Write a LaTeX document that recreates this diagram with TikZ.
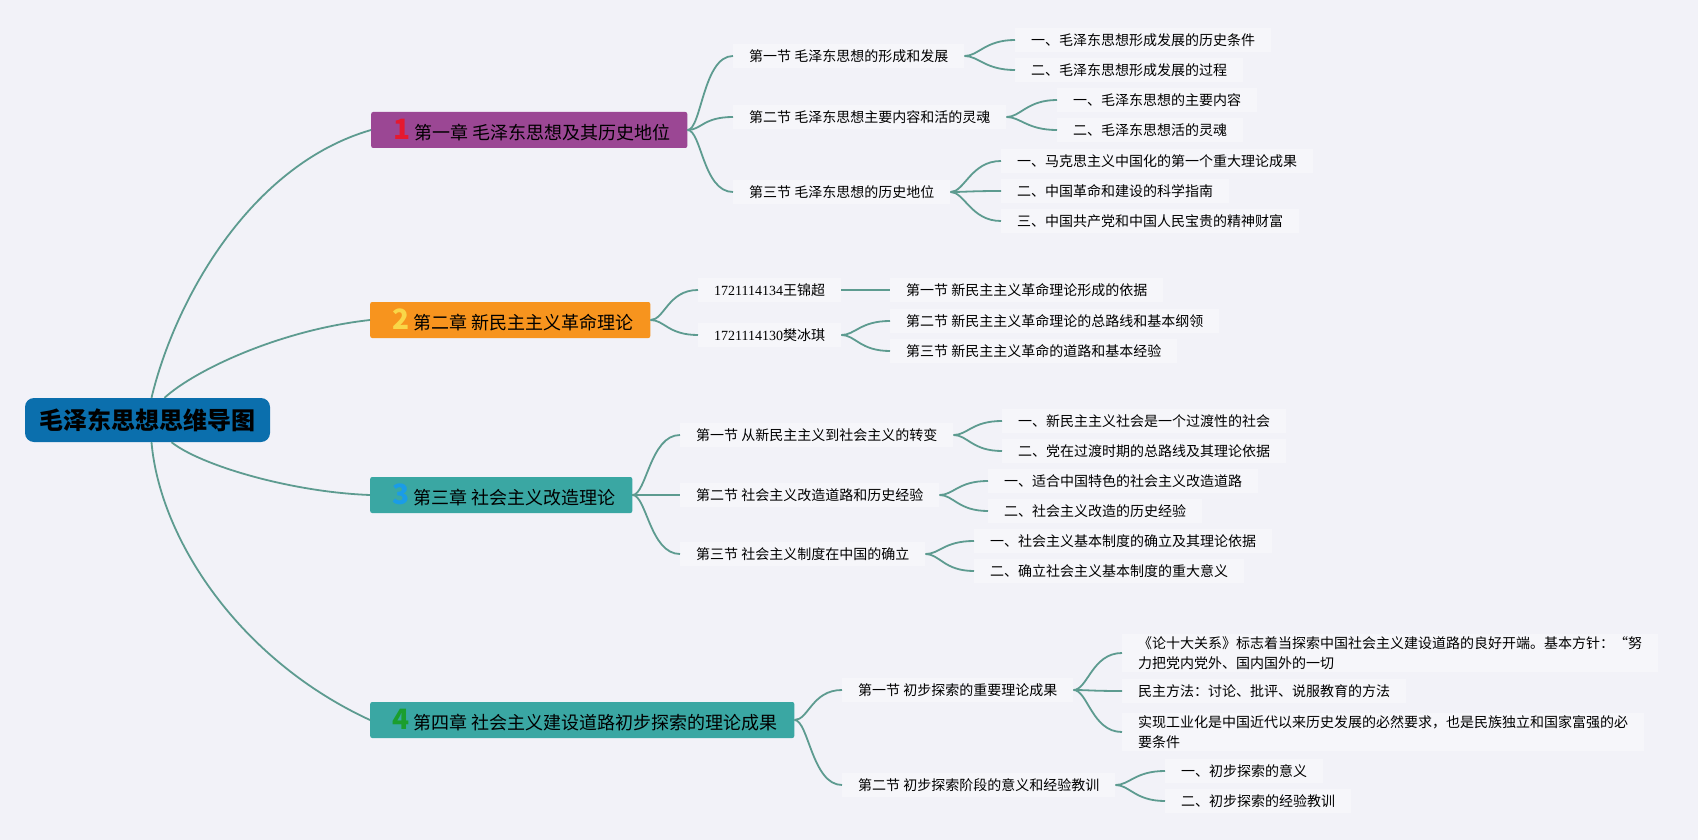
\documentclass[tikz,border=0pt]{standalone}
\usepackage{fontspec}
\setmainfont{Noto Sans CJK SC}
\newfontfamily\idfont{Liberation Serif}
\definecolor{bgc}{HTML}{F2F2F8}
\definecolor{boxc}{HTML}{F6F6FA}
\definecolor{linkc}{HTML}{5D9B90}
\definecolor{rootc}{HTML}{0B6FAD}
\definecolor{purp}{HTML}{9B4794}
\definecolor{orng}{HTML}{F7941E}
\definecolor{teal}{HTML}{3AA7A3}
\definecolor{numred}{HTML}{E5192F}
\definecolor{numyel}{HTML}{F9D648}
\definecolor{numblu}{HTML}{1A9CE8}
\definecolor{numgrn}{HTML}{1B9E2E}
\newcommand\chnum[2]{\hspace{5pt}{\color{#1}\fontsize{28}{28}\selectfont\bfseries #2}\hspace{4pt}}
\tikzset{
  link/.style={draw=linkc, line width=1.8pt},
  fork/.style={to path={.. controls +(14,0) and +(-30,0) .. (\tikztotarget)}},
  root/.style={fill=rootc, rounded corners=9pt, minimum width=245pt,
    minimum height=44pt, font=\fontsize{24}{24}\selectfont\bfseries},
  chap/.style={anchor=west, rounded corners=2pt, minimum height=36pt,
    inner xsep=17pt, inner ysep=0pt, font=\fontsize{18}{18}\selectfont},
  sect/.style={anchor=west, fill=boxc, minimum height=24pt, inner xsep=16pt,
    inner ysep=2pt, font=\fontsize{14}{20}\selectfont, align=left},
}
\begin{document}
\begin{tikzpicture}[x=1pt,y=-1pt]
\fill[bgc] (0,0) rectangle (1698,840);
\node[root] (root) at (147.5,420) {毛泽东思想思维导图};

% chapters
\node[chap, fill=purp] (c1) at (371,130) {\chnum{numred}{1}第一章 毛泽东思想及其历史地位};
\node[chap, fill=orng] (c2) at (370,320) {\chnum{numyel}{2}第二章 新民主主义革命理论};
\node[chap, fill=teal] (c3) at (370,495) {\chnum{numblu}{3}第三章 社会主义改造理论};
\node[chap, fill=teal] (c4) at (370,720) {\chnum{numgrn}{4}第四章 社会主义建设道路初步探索的理论成果};
\draw[link] ([xshift=4pt]root.north) .. controls (175,300) and (250,165) .. (c1.west);
\draw[link] ([xshift=17pt]root.north) .. controls (195,370) and (280,330) .. (c2.west);
\draw[link] ([xshift=24pt]root.south) .. controls (200,465) and (290,492) .. (c3.west);
\draw[link] ([xshift=4pt]root.south) .. controls (160,540) and (240,660) .. (c4.west);

% chapter 1
\node[sect] (c1s1) at (733,56) {第一节 毛泽东思想的形成和发展};
\node[sect] (c1s2) at (733,117) {第二节 毛泽东思想主要内容和活的灵魂};
\node[sect] (c1s3) at (733,192) {第三节 毛泽东思想的历史地位};
\foreach \s in {1,2,3} \draw[link] (c1.east) to[fork] (c1s\s.west);
\foreach \t [count=\i from 0] in {一、毛泽东思想形成发展的历史条件,二、毛泽东思想形成发展的过程}{
  \node[sect] (c1s1l\i) at (1015,{40+30*\i}) {\t};
  \draw[link] (c1s1.east) to[fork] (c1s1l\i.west);
}
\foreach \t [count=\i from 0] in {一、毛泽东思想的主要内容,二、毛泽东思想活的灵魂}{
  \node[sect] (c1s2l\i) at (1057,{100+30*\i}) {\t};
  \draw[link] (c1s2.east) to[fork] (c1s2l\i.west);
}
\foreach \t [count=\i from 0] in {一、马克思主义中国化的第一个重大理论成果,二、中国革命和建设的科学指南,三、中国共产党和中国人民宝贵的精神财富}{
  \node[sect] (c1s3l\i) at (1001,{161+30*\i}) {\t};
  \draw[link] (c1s3.east) to[fork] (c1s3l\i.west);
}

% chapter 2
\node[sect] (id1) at (698,290) {{\idfont 1721114134}王锦超};
\node[sect] (id2) at (698,335) {{\idfont 1721114130}樊冰琪};
\foreach \s in {1,2} \draw[link] (c2.east) to[fork] (id\s.west);
\node[sect] (c2l0) at (890,290) {第一节 新民主主义革命理论形成的依据};
\draw[link] (id1.east) -- (c2l0.west);
\foreach \t [count=\i] in {第二节 新民主主义革命理论的总路线和基本纲领,第三节 新民主主义革命的道路和基本经验}{
  \node[sect] (c2l\i) at (890,{291+30*\i}) {\t};
  \draw[link] (id2.east) to[fork] (c2l\i.west);
}

% chapter 3
\node[sect] (c3s1) at (680,435) {第一节 从新民主主义到社会主义的转变};
\node[sect] (c3s2) at (680,495) {第二节 社会主义改造道路和历史经验};
\node[sect] (c3s3) at (680,554) {第三节 社会主义制度在中国的确立};
\foreach \s in {1,2,3} \draw[link] (c3.east) to[fork] (c3s\s.west);
\foreach \t [count=\i from 0] in {一、新民主主义社会是一个过渡性的社会,二、党在过渡时期的总路线及其理论依据}{
  \node[sect] (c3s1l\i) at (1002,{421+30*\i}) {\t};
  \draw[link] (c3s1.east) to[fork] (c3s1l\i.west);
}
\foreach \t [count=\i from 0] in {一、适合中国特色的社会主义改造道路,二、社会主义改造的历史经验}{
  \node[sect] (c3s2l\i) at (988,{481+30*\i}) {\t};
  \draw[link] (c3s2.east) to[fork] (c3s2l\i.west);
}
\foreach \t [count=\i from 0] in {一、社会主义基本制度的确立及其理论依据,二、确立社会主义基本制度的重大意义}{
  \node[sect] (c3s3l\i) at (974,{541+30*\i}) {\t};
  \draw[link] (c3s3.east) to[fork] (c3s3l\i.west);
}

% chapter 4
\node[sect] (c4s1) at (842,690) {第一节 初步探索的重要理论成果};
\node[sect] (c4s2) at (842,785) {第二节 初步探索阶段的意义和经验教训};
\foreach \s in {1,2} \draw[link] (c4.east) to[fork] (c4s\s.west);
\node[sect] (c4s1l0) at (1122,653) {《论十大关系》标志着当探索中国社会主义建设道路的良好开端。基本方针：“努\\力把党内党外、国内国外的一切};
\node[sect] (c4s1l1) at (1122,691) {民主方法：讨论、批评、说服教育的方法};
\node[sect] (c4s1l2) at (1122,732) {实现工业化是中国近代以来历史发展的必然要求，也是民族独立和国家富强的必\\要条件};
\foreach \s in {0,1,2} \draw[link] (c4s1.east) to[fork] (c4s1l\s.west);
\foreach \t [count=\i from 0] in {一、初步探索的意义,二、初步探索的经验教训}{
  \node[sect] (c4s2l\i) at (1165,{771+30*\i}) {\t};
  \draw[link] (c4s2.east) to[fork] (c4s2l\i.west);
}
\end{tikzpicture}
\end{document}
